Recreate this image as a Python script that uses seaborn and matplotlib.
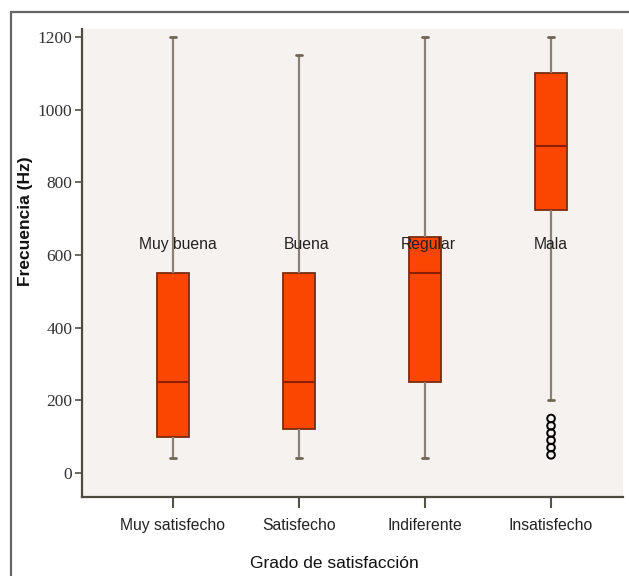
import numpy as np
import pandas as pd
import matplotlib
matplotlib.use("Agg")
import matplotlib.pyplot as plt
from matplotlib.patches import Rectangle
import seaborn as sns

# ---- data ----
categories = ["Muy satisfecho", "Satisfecho", "Indiferente", "Insatisfecho"]
# five-number summaries: whisker low, Q1, median, Q3, whisker high
muy_satisfecho = [40, 100, 250, 550, 1200]
satisfecho = [40, 120, 250, 550, 1150]
indiferente = [40, 250, 550, 650, 1200]
insatisfecho = [200, 725, 900, 1100, 1200]
outliers_insatisfecho = [150, 130, 110, 90, 70, 50]
annotations = ["Muy buena", "Buena", "Regular", "Mala"]
y_ticks = [0, 200, 400, 600, 800, 1000, 1200]

series = [muy_satisfecho, satisfecho, indiferente, insatisfecho]
df = pd.DataFrame({
    "grupo": np.repeat(categories, [len(s) for s in series]),
    "frecuencia": np.concatenate(series),
})
df_out = pd.DataFrame({
    "grupo": [categories[3]] * len(outliers_insatisfecho),
    "frecuencia": outliers_insatisfecho,
})

sns.set_style("white")
plt.rcParams["font.family"] = ["Liberation Sans", "DejaVu Sans"]

fig = plt.figure(figsize=(6.29, 5.76), dpi=100)
ax = fig.add_axes([82 / 629, 1 - 497 / 576, (623 - 82) / 629, (497 - 29) / 576])
ax.set_facecolor("#F6F2EF")

box_fill = "#FB4602"
sns.boxplot(
    data=df, x="grupo", y="frecuencia", order=categories, ax=ax,
    whis=(0, 100), width=0.25, color=box_fill, saturation=1,
    boxprops=dict(facecolor=box_fill, edgecolor="#7A2C12", linewidth=1.3),
    medianprops=dict(color="#8B1E05", linewidth=1.5),
    whiskerprops=dict(color="#8A8172", linewidth=1.6),
    capprops=dict(color="#6E6656", linewidth=2.0),
    capwidths=0.045,
)

sns.stripplot(
    data=df_out, x="grupo", y="frecuencia", order=categories, ax=ax,
    jitter=False, marker="o", size=5.5, color="none",
    edgecolor="black", linewidth=1.4,
)
for coll in ax.collections:
    coll.set_facecolor("none")
    coll.set_edgecolor("black")

# annotations above each box
offsets = [0.04, 0.06, 0.03, 0.0]
for i, (lab, off) in enumerate(zip(annotations, offsets)):
    ax.text(i + off, 630, lab, ha="center", va="center", fontsize=11.3,
            color="#222222", zorder=5)

ax.set_xlim(-0.722, 3.571)
ax.set_ylim(-66, 1222)
ax.set_yticks(y_ticks)
ax.set_yticklabels([str(v) for v in y_ticks], fontfamily="Liberation Serif",
                   fontsize=12.5, color="#333333")
ax.set_xticks(range(len(categories)))
ax.set_xticklabels(categories, fontsize=11.3, color="#222222")
ax.tick_params(axis="y", length=5, width=1.2, color="#55524a", pad=2, left=True)
ax.tick_params(axis="x", length=8, width=1.5, color="#55524a", pad=7, bottom=True)

for side in ["top", "right"]:
    ax.spines[side].set_visible(False)
for side in ["left", "bottom"]:
    ax.spines[side].set_color("#4d4a40")
    ax.spines[side].set_linewidth(1.6)

ax.set_xlabel("Grado de satisfacción", fontsize=12.5, color="#111111")
ax.xaxis.set_label_coords(0.466, -0.127)
ax.set_ylabel("Frecuencia (Hz)", fontsize=12.5, fontweight="bold", color="#111111")
ax.yaxis.set_label_coords(-0.09, 0.59)

# figure frame
fig.add_artist(Rectangle((11 / 629, -0.05), 2.0, 1 - 12 / 576 + 0.05,
                         transform=fig.transFigure, fill=False,
                         edgecolor="#666666", linewidth=1.6))

fig.savefig("out.png", dpi=100)
